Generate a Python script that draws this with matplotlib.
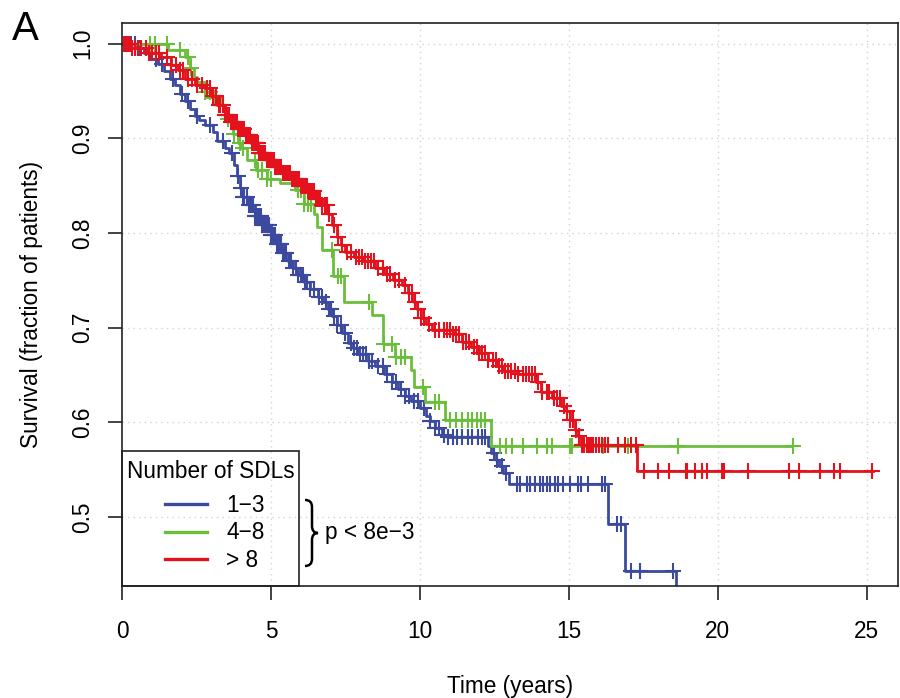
import numpy as np
import matplotlib
matplotlib.use("Agg")
import matplotlib.pyplot as plt
from matplotlib.path import Path
from matplotlib.patches import PathPatch, Rectangle
from matplotlib.lines import Line2D

plt.rcParams['font.family'] = ['Liberation Sans', 'DejaVu Sans']

# Kaplan-Meier step curves (time in years, survival after the step)
blue_t = [0, 0.5, 0.75, 0.95, 1.2, 1.4, 1.6, 1.77, 1.94, 2.1, 2.27, 2.44, 2.6, 2.8, 3.05, 3.2,
          3.45, 3.6, 3.75, 3.85, 3.95, 4.05, 4.25, 4.45, 4.7, 5.0, 5.2, 5.4, 5.57, 5.75, 5.9,
          6.1, 6.3, 6.57, 6.75, 6.91, 7.05, 7.2, 7.37, 7.58, 7.75, 7.92, 8.25, 8.5, 8.8, 9.05,
          9.25, 9.5, 9.7, 10.0, 10.2, 10.35, 10.5, 10.75, 10.9, 12.3, 12.4, 12.55, 12.65, 12.8,
          13.0, 16.3, 16.88, 18.6]
blue_s = [1.0, 0.995, 0.99, 0.984, 0.979, 0.971, 0.963, 0.956, 0.947, 0.939, 0.931, 0.924, 0.919,
          0.914, 0.907, 0.897, 0.89, 0.884, 0.872, 0.86, 0.848, 0.838, 0.83, 0.818, 0.808, 0.798,
          0.788, 0.779, 0.77, 0.763, 0.756, 0.748, 0.741, 0.732, 0.727, 0.72, 0.712, 0.703, 0.694,
          0.684, 0.678, 0.672, 0.665, 0.659, 0.651, 0.643, 0.635, 0.628, 0.622, 0.615, 0.607,
          0.601, 0.594, 0.587, 0.584, 0.575, 0.567, 0.56, 0.554, 0.546, 0.535, 0.493, 0.443, 0.40]

green_t = [0, 1.54, 2.1, 2.27, 2.4, 2.5, 2.8, 3.1, 3.3, 3.45, 3.55, 3.72, 3.9, 4.0, 4.2, 4.5,
           4.85, 5.3, 5.8, 6.1, 6.45, 6.55, 6.7, 7.08, 7.45, 8.4, 8.77, 9.16, 9.7, 9.8, 10.16,
           10.84, 12.38, 22.5]
green_s = [1.0, 0.993, 0.986, 0.974, 0.965, 0.959, 0.949, 0.943, 0.935, 0.927, 0.92, 0.905, 0.895,
           0.89, 0.877, 0.866, 0.857, 0.853, 0.845, 0.831, 0.82, 0.806, 0.782, 0.755, 0.727, 0.713,
           0.683, 0.669, 0.655, 0.637, 0.621, 0.602, 0.575, 0.575]

red_t = [0, 0.3, 0.85, 1.3, 1.63, 1.87, 2.1, 2.44, 2.77, 2.98, 3.2, 3.45, 3.65, 3.88, 4.12, 4.32,
         4.56, 4.85, 5.13, 5.4, 5.7, 6.0, 6.24, 6.5, 6.7, 6.9, 7.05, 7.2, 7.35, 7.5, 7.8, 8.1, 8.5,
         8.8, 9.1, 9.4, 9.6, 9.8, 9.9, 10.05, 10.2, 10.4, 11.1, 11.4, 11.7, 12.0, 12.3, 12.6, 12.8,
         13.3, 13.9, 14.05, 14.45, 14.75, 14.9, 15.05, 15.2, 15.3, 15.4, 17.3, 25.2]
red_s = [1.0, 0.995, 0.99, 0.986, 0.977, 0.972, 0.963, 0.956, 0.953, 0.945, 0.935, 0.925, 0.917,
         0.91, 0.903, 0.895, 0.885, 0.877, 0.87, 0.863, 0.857, 0.85, 0.844, 0.836, 0.83, 0.82,
         0.808, 0.796, 0.787, 0.78, 0.775, 0.77, 0.763, 0.757, 0.75, 0.745, 0.737, 0.727, 0.72,
         0.71, 0.704, 0.697, 0.693, 0.685, 0.679, 0.673, 0.666, 0.659, 0.654, 0.651, 0.643, 0.632,
         0.626, 0.617, 0.612, 0.602, 0.592, 0.585, 0.576, 0.548, 0.548]

# censoring times (+ marks)
blue_cens = [0.15, 0.3, 0.45, 0.6, 0.9, 1.15, 1.35, 1.7, 2.0, 2.2, 2.5, 2.95, 3.4, 3.7, 3.9, 4.0,
             4.05, 4.1, 4.18, 4.25, 4.32, 4.4, 4.45, 4.5, 4.55, 4.6, 4.65, 4.7, 4.75, 4.8, 4.85,
             4.9, 4.95, 5.0, 5.05, 5.1, 5.15, 5.2, 5.25, 5.3, 5.35, 5.4, 5.45, 5.5, 5.6, 5.68,
             5.75, 5.85, 5.92, 6.0, 6.08, 6.15, 6.22, 6.3, 6.45, 6.6, 6.7, 6.85, 6.95, 7.0, 7.1,
             7.2, 7.35, 7.5, 7.7, 7.8, 7.9, 8.0, 8.1, 8.2, 8.3, 8.4, 8.6, 8.75, 8.9, 9.05, 9.2,
             9.35, 9.5, 9.65, 9.8, 9.95, 10.15, 10.35, 10.5, 10.65, 10.8, 10.95, 11.1, 11.25,
             11.4, 11.6, 11.75, 11.95, 12.1, 12.2, 12.5, 12.6, 12.75, 12.9, 13.25, 13.36, 13.58,
             13.69, 13.86, 14.03, 14.14, 14.25, 14.36, 14.53, 14.64, 14.81, 15.03, 15.31, 15.42,
             15.65, 16.1, 16.21, 16.6, 16.75, 17.1, 17.4, 18.5]
green_cens = [0.95, 1.1, 1.5, 1.95, 2.2, 2.3, 2.8, 2.95, 3.1, 3.3, 3.55, 3.75, 3.95, 4.05, 4.45,
              4.55, 4.7, 4.85, 5.0, 5.9, 6.0, 6.1, 6.25, 6.35, 7.05, 7.25, 7.35, 8.3, 8.8, 9.05,
              9.2, 9.35, 9.5, 10.1, 10.5, 10.65, 11.0, 11.2, 11.4, 11.6, 11.75, 11.9, 12.05, 12.2,
              12.68, 12.9, 13.1, 13.45, 13.92, 14.26, 14.43, 15.03, 15.12, 16.14, 16.99, 18.65, 22.51]
red_cens = [0.05, 0.12, 0.2, 0.28, 0.35, 0.45, 0.55, 0.65, 0.8, 0.9, 1.0, 1.15, 1.25, 1.5, 1.65,
            1.8, 1.95, 2.05, 2.2, 2.35, 2.5, 2.7, 2.85, 2.95, 3.05, 3.15, 3.25, 3.3, 3.4, 3.45,
            3.5, 3.55, 3.6, 3.65, 3.7, 3.75, 3.8, 3.85, 3.9, 3.95, 4.0, 4.05, 4.1, 4.15, 4.2,
            4.25, 4.3, 4.35, 4.4, 4.45, 4.5, 4.55, 4.6, 4.65, 4.7, 4.75, 4.8, 4.85, 4.9, 4.95,
            5.0, 5.05, 5.1, 5.15, 5.2, 5.25, 5.3, 5.35, 5.4, 5.45, 5.5, 5.55, 5.6, 5.65, 5.7,
            5.75, 5.8, 5.85, 5.9, 5.95, 6.0, 6.05, 6.1, 6.15, 6.2, 6.25, 6.3, 6.35, 6.4, 6.45,
            6.5, 6.55, 6.6, 6.65, 6.72, 6.8, 6.88, 6.95, 7.1, 7.25, 7.4, 7.55, 7.7, 7.85, 7.95,
            8.05, 8.15, 8.25, 8.35, 8.45, 8.6, 8.75, 8.9, 9.0, 9.15, 9.3, 9.5, 9.65, 9.75, 9.85,
            9.95, 10.05, 10.15, 10.3, 10.5, 10.65, 10.8, 10.9, 11.0, 11.1, 11.2, 11.3, 11.45,
            11.55, 11.65, 11.8, 11.9, 12.0, 12.1, 12.2, 12.3, 12.45, 12.55, 12.65, 12.75, 12.85,
            12.95, 13.05, 13.2, 13.3, 13.45, 13.55, 13.65, 13.75, 13.85, 13.95, 14.1, 14.25, 14.35,
            14.5, 14.6, 14.7, 14.85, 14.95, 15.05, 15.15, 15.25, 15.35, 15.45, 15.52, 15.6, 15.68,
            15.75, 15.82, 15.9, 16.0, 16.1, 16.2, 16.3, 16.65, 16.88, 17.1, 17.25, 17.53, 17.98,
            18.36, 18.93, 18.97, 19.23, 19.46, 19.64, 20.13, 20.21, 21.02, 22.4, 22.72, 23.43,
            23.9, 24.1, 25.16]

labels = ["1\u22123", "4\u22128", "> 8"]
colors = ["#3b4a9e", "#6bbe3b", "#e4121c"]

fig = plt.figure(figsize=(9, 6.98), dpi=100)
ax = fig.add_axes([0.1356, 0.1605, 0.8622, 0.8065])

# light dotted grid like R's grid()
for gx in [5, 10, 15, 20, 25]:
    ax.axvline(gx, color="#d3d3d3", lw=1, ls=(0, (1, 3)), zorder=0)
for gy in [0.5, 0.6, 0.7, 0.8, 0.9, 1.0]:
    ax.axhline(gy, color="#d3d3d3", lw=1, ls=(0, (1, 3)), zorder=0)

curves = [(blue_t, blue_s, blue_cens), (green_t, green_s, green_cens), (red_t, red_s, red_cens)]
for (t, s, c), col in zip(curves, colors):
    t = np.array(t)
    s = np.array(s)
    ax.plot(t, s, drawstyle="steps-post", color=col, lw=2.0)
    c = np.array(c)
    idx = np.searchsorted(t, c, side="right") - 1
    ax.plot(c, s[idx], ls="none", marker="+", ms=12, mew=1.5, color=col)

ax.set_xlim(0, 26.05)
ax.set_ylim(0.427, 1.0218)
ax.set_xticks([0, 5, 10, 15, 20, 25])
ax.set_yticks([0.5, 0.6, 0.7, 0.8, 0.9, 1.0])
ax.set_yticklabels(["0.5", "0.6", "0.7", "0.8", "0.9", "1.0"], rotation=90, va="center")
ax.tick_params(axis="both", labelsize=16.3, length=10, width=1.2, color="#222222")
ax.tick_params(axis="x", pad=14.5)
ax.tick_params(axis="y", pad=10)
for sp in ax.spines.values():
    sp.set_linewidth(1.2)
    sp.set_color("#222222")

ax.set_xlabel("Time (years)", fontsize=16.3, labelpad=23)
ax.set_ylabel("Survival (fraction of patients)", fontsize=16.3, labelpad=20)

# legend: box, title and entries placed like R's legend()
handles = [Line2D([], [], color=col, lw=2.4) for col in colors]
ax.legend(handles, labels, loc="center left", bbox_to_anchor=(0.0554, 0.0941),
          borderaxespad=0, borderpad=0, frameon=False, fontsize=16.3,
          handlelength=1.85, handletextpad=0.85, labelspacing=0.19)
ax.add_patch(Rectangle((0, 0), 0.2281, 0.2398, transform=ax.transAxes, fill=False,
                       lw=1.2, edgecolor="#222222", clip_on=False, zorder=5))
ax.text(0.1147, 0.2025, "Number of SDLs", transform=ax.transAxes, fontsize=16.3,
        ha="center", va="center")

# curly brace and p-value next to the legend
bx = [0.2358, 0.2448, 0.2448, 0.2448, 0.2448, 0.2526, 0.2448, 0.2448, 0.2448, 0.2448, 0.2358]
by = [0.1528, 0.1528, 0.1403, 0.1066, 0.0941, 0.0941, 0.0941, 0.0817, 0.048, 0.0355, 0.0355]
codes = [Path.MOVETO, Path.CURVE3, Path.CURVE3, Path.LINETO, Path.CURVE3, Path.CURVE3,
         Path.CURVE3, Path.CURVE3, Path.LINETO, Path.CURVE3, Path.CURVE3]
brace = PathPatch(Path(np.column_stack([bx, by]), codes), fill=False, lw=1.8,
                  edgecolor="black", transform=ax.transAxes, clip_on=False)
ax.add_patch(brace)
ax.text(0.2616, 0.0941, "p < 8e\u22123", transform=ax.transAxes, fontsize=16.3,
        va="center", ha="left")

fig.text(0.013, 0.985, "A", fontsize=29, va="top", ha="left")

fig.savefig("out.png", dpi=100)
